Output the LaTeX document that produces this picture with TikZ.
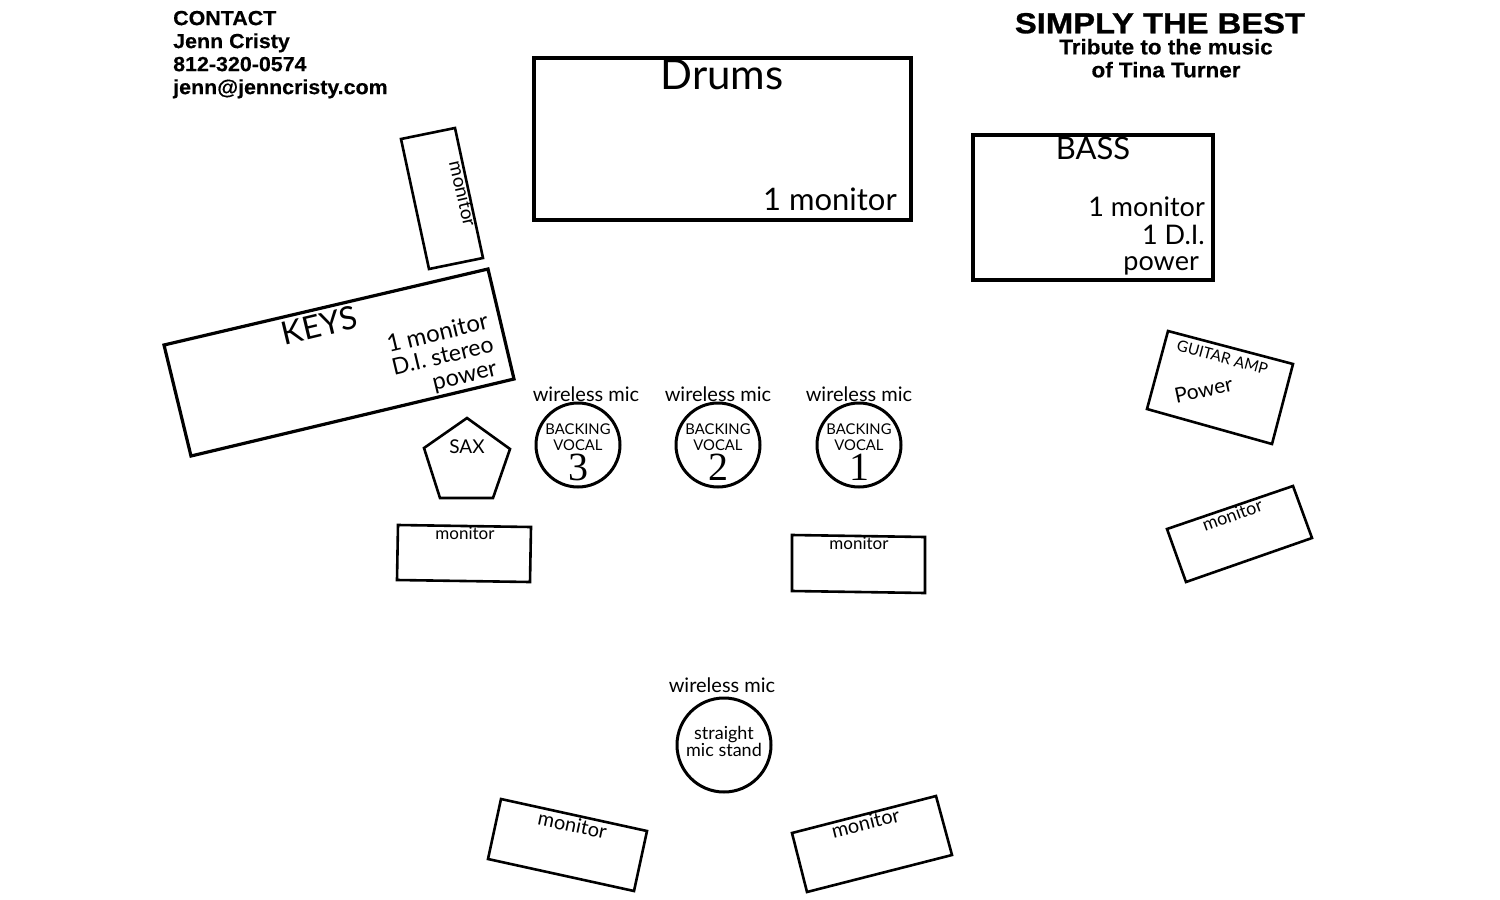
\documentclass[tikz,border=0pt]{standalone}
\usepackage{fontspec}
\setmainfont{Lato}
\newfontfamily\headFont[FakeStretch=1.05,FakeBold=0.4]{Liberation Sans Bold}
\newfontfamily\bandFont[FakeStretch=1.13,FakeBold=1]{Liberation Sans Bold}
\newfontfamily\numFont{Liberation Serif}
\newcommand{\fs}[1]{\fontsize{#1}{#1}\selectfont}
\begin{document}
\begin{tikzpicture}[x=1pt,y=-1pt,
  box/.style={draw, line width=3.2pt, line join=miter},
  thinBox/.style={draw, line width=2.6pt, line join=miter},
  mic/.style={draw, line width=3pt},
  headText/.style={font=\headFont\fs{#1}, inner sep=0pt, text height=0.75*#1 pt, text depth=0.25*#1 pt},
  plainText/.style={font=\fs{#1}, inner sep=0pt, text height=0.75*#1 pt, text depth=0.25*#1 pt}
]
\useasboundingbox (0,0) rectangle (1500,900);
% contact and band name
\node[headText=20.4, anchor=west] (contactA) at (173,20){CONTACT};
\node[headText=20.4, anchor=west] (contactB) at (173,43){Jenn Cristy};
\node[headText=20.4, anchor=west] (contactC) at (173,66){812-320-0574};
\node[headText=20.4, anchor=west] (contactD) at (173,89){jenn@jenncristy.com};
\node[font=\bandFont\fs{29}, inner sep=0pt, text height=21.75pt, text depth=7.25pt] (bandName) at (1160,26){SIMPLY THE BEST};
\node[headText=21.4] (tributeA) at (1166,49){Tribute to the music};
\node[headText=21.4] (tributeB) at (1166,72){of Tina Turner};
% drums
\draw[box] (534,58) rectangle (911,220);
\node[plainText=42] (drums) at (722,79){Drums};
\node[plainText=31, anchor=east] (drumsMon) at (897,203){1 monitor};
% bass
\draw[box] (973,135) rectangle (1213,280);
\node[plainText=31] (bass) at (1093,152){BASS};
\node[plainText=27, anchor=east] (bassMon) at (1205,210){1 monitor};
\node[plainText=27, anchor=east] (bassDi) at (1205,238){1 D.I.};
\node[plainText=27, anchor=east] (bassPow) at (1199,264){power};
% keys
\draw[thinBox] (401,139)--(455,128)--(483,258)--(429,269)--cycle;
\node[plainText=19, rotate=-77] (keysWedge) at (461,194){monitor};
\draw[box] (164,345)--(488,269)--(514,379)--(191,456)--cycle;
\node[plainText=32, rotate=13.5] (keys) at (320,329){KEYS};
\node[plainText=24, rotate=13.5] (keysMon) at (438,335){1 monitor};
\node[plainText=23, rotate=13.5] (keysDi) at (443,358){D.I. stereo};
\node[plainText=23.5, rotate=13.5] (keysPow) at (465,377){power};
% backing vocals
\draw[thinBox] (467,418)--(510,449)--(493,498)--(440,498)--(424,448)--cycle;
\node[plainText=19] (sax) at (467,449){SAX};
\foreach \cx/\num in {578/3,718/2,859/1}{
  \draw[mic] (\cx,445) circle[radius=42];
  \node[plainText=14.8] (bvA\num) at (\cx,431){BACKING};
  \node[plainText=14.8] (bvB\num) at (\cx,447){VOCAL};
  \node[font=\numFont\fs{40}, inner sep=0pt, text height=30pt, text depth=10pt] (bvC\num) at (\cx,470){\num};
}
\node[plainText=20] (micA) at (586,396){wireless mic};
\node[plainText=20] (micB) at (718,396){wireless mic};
\node[plainText=20] (micC) at (859,396){wireless mic};
% floor monitors
\draw[thinBox] (398,525)--(531,527)--(530,582)--(397,580)--cycle;
\node[plainText=17] (monLeft) at (465,535){monitor};
\draw[thinBox] (792,535)--(925,537)--(925,593)--(792,591)--cycle;
\node[plainText=17] (monRight) at (859,545){monitor};
% guitar
\draw[thinBox] (1168,331)--(1293,364)--(1272,444)--(1147,409)--cycle;
\node[plainText=15.5, rotate=-15] (guitar) at (1222,359){GUITAR AMP};
\node[plainText=21, rotate=12] (guitarPow) at (1204,392){Power};
\draw[thinBox] (1293,486)--(1312,538)--(1186,582)--(1167,529)--cycle;
\node[plainText=18, rotate=20] (monGuitar) at (1233,517){monitor};
% lead vocal
\draw[mic] (724,745) circle[radius=47];
\node[plainText=20] (leadMic) at (722,687){wireless mic};
\node[plainText=18] (leadA) at (724,735){straight};
\node[plainText=18] (leadB) at (724,752){mic stand};
\draw[thinBox] (501,799)--(647,831)--(634,891)--(488,859)--cycle;
\node[plainText=20, rotate=-12] (monFrontL) at (572,827){monitor};
\draw[thinBox] (936,796)--(952,855)--(807,892)--(792,833)--cycle;
\node[plainText=20, rotate=14] (monFrontR) at (866,825){monitor};
\end{tikzpicture}
\end{document}
